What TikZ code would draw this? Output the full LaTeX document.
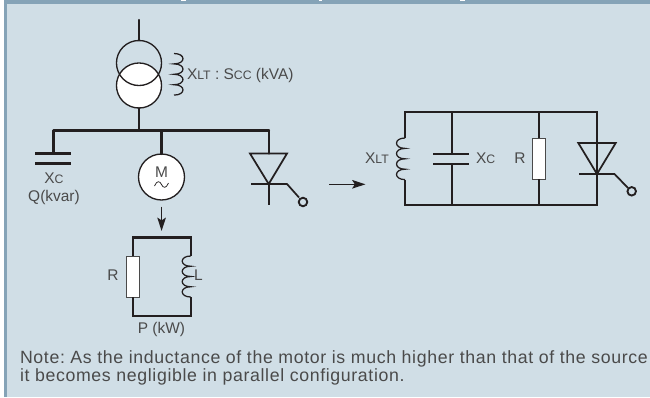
\documentclass[tikz,border=0pt]{standalone}
\usepackage{fontspec}
\setmainfont{Liberation Sans}
\usetikzlibrary{arrows.meta}
\frenchspacing
\definecolor{panelbg}{HTML}{D0DEE6}
\definecolor{band}{HTML}{85A3B7}
\definecolor{ink}{HTML}{231F20}
\definecolor{txt}{HTML}{4A4A4A}
\newcommand{\sm}[1]{{\fontsize{9.2}{10}\selectfont #1}}
\newcommand{\coilpath}[4]{%
  \draw[coil] (#1,#2) \foreach \i in {0,1,2,3} { .. controls ({#1+1.33*#3},{#2+\i*#4}) and ({#1+1.33*#3},{#2+(\i+1)*#4}) .. (#1,{#2+(\i+1)*#4}) };}
\tikzset{
  wire/.style={draw=ink,line width=1.7pt,line cap=round,line join=miter},
  thin wire/.style={draw=ink,line width=1.3pt,line join=miter},
  coil/.style={draw=ink,line width=0.95pt},
  lab/.style={text=txt,font=\fontsize{11.6}{13}\selectfont,inner sep=0pt,outer sep=0pt},
  note/.style={text=txt,font=\fontsize{13.3}{15}\selectfont\addfontfeature{LetterSpace=3.6},inner sep=0pt,outer sep=0pt},
  res/.style={draw=txt,fill=white,line width=0.8pt,minimum width=9.4pt,minimum height=30.5pt,inner sep=0pt,outer sep=0pt},
  ring/.style={circle,draw=ink,line width=1pt,inner sep=0pt,outer sep=0pt},
  flow/.style={draw=ink,line width=1.2pt,-{Stealth[length=10pt,width=6.4pt,inset=2pt]}},
}
\begin{document}
\begin{tikzpicture}[x=0.75pt,y=-0.75pt]
\useasboundingbox (0,0) rectangle (650,397);
\fill[white] (0,0) rectangle (650,397);
\fill[band] (4,0) rectangle (650,3.7);
\fill[band] (4,0) rectangle (6.6,397);
\fill[panelbg] (6.6,3.7) rectangle (650,397);
% tips of the clipped heading
\foreach \a/\b in {181/186,318.5/321.5,460/465}{\fill[white] (\a,0) rectangle (\b,1.2);}
% transformer
\coordinate (feed) at (139,20);
\node[ring,fill=white,minimum size=33.8pt] (lower) at (139,85.5) {};
\node[ring,minimum size=33.8pt] (upper) at (139,63) {};
\draw[wire] (feed) -- (upper.north);
\coilpath{174}{53.5}{9}{10.4}
\node[lab,anchor=base west] (xlt) at (187,79.5) {X\sm{LT} : S\sm{CC} (kVA)};
% bus
\coordinate (busL) at (53.5,130.5);
\coordinate (busT) at (139,130.5);
\coordinate (busM) at (161.5,130.5);
\coordinate (busR) at (269,130.5);
\draw[wire] (lower.south) -- (busT);
\draw[wire] (busL) -- (busR);
% capacitor
\coordinate (capA) at (53.5,153.5);
\draw[wire] (busL) -- (capA);
\draw[wire,line cap=butt] (35,153.5) -- (71,153.5);
\draw[wire,line cap=butt] (35,163.5) -- (71,163.5);
\node[lab,anchor=base] (xc) at (54,183.5) {X\sm{C}};
\node[lab,anchor=base] (q) at (54,201) {Q(kvar)};
% motor
\node[ring,fill=white,minimum size=34.5pt] (motor) at (161.5,177) {};
\draw[wire] (busM) -- (motor.north);
\node[lab,anchor=base] (m) at (161.5,177) {M};
\draw[draw=ink,line width=0.55pt] (154.5,186) .. controls (157,180) and (160,181) .. (161.5,184.5) .. controls (163,188) and (166,189) .. (168.5,183);
\coordinate (arrA) at (161.6,206.5);
\coordinate (arrB) at (161.6,231);
\draw[flow] (arrA) -- (arrB);
% thyristor left
\coordinate (thyTop) at (269,153.5);
\coordinate (thyK) at (268.7,184);
\draw[wire] (busR) -- (thyTop);
\draw[thin wire,line join=miter] (250,153.5) -- (287,153.5) -- (thyK) -- cycle;
\draw[thin wire] (251,184) -- (287,184) -- (299,197.5);
\draw[thin wire] (thyK) -- (268.7,205);
\node[ring,line width=1.4pt,minimum size=6.4pt] (g1) at (303,202) {};
% R L branch
\node[res] (r1) at (133,276.7) {};
\draw[wire,line cap=butt] (r1.north) -- (133,237.5) -- (190.7,237.5) -- (190.7,256);
\draw[wire,line cap=butt] (r1.south) -- (133,315.7) -- (190.7,315.7) -- (190.7,297);
\coilpath{190.7}{256}{-8.5}{10.25}
\node[lab] (rl) at (113,275) {R};
\node[lab] (ll) at (198.5,275.5) {L};
\node[lab,anchor=base] (p) at (161.5,333) {P (kW)};
% arrow between
\coordinate (midA) at (329,184.3);
\coordinate (midB) at (365.5,184.3);
\draw[flow] (midA) -- (midB);
% right circuit
\draw[wire,line cap=butt] (405,138) -- (405,112) -- (597,112) -- (597,205.3) -- (405,205.3) -- (405,179.5);
\coilpath{405}{138}{-8.5}{10.4}
\node[lab] (xlt2) at (377,158.5) {X\sm{LT}};
\coordinate (c2t) at (452,112);
\coordinate (c2b) at (452,205.3);
\draw[wire,line cap=butt] (c2t) -- (452,153.7);
\draw[wire,line cap=butt] (c2b) -- (452,163.7);
\draw[wire,line cap=butt] (433.3,153.7) -- (469,153.7);
\draw[wire,line cap=butt] (433.3,163.7) -- (469,163.7);
\node[lab] (xc2) at (485.7,158.5) {X\sm{C}};
\node[res] (r2) at (538.8,158.7) {};
\draw[wire,line cap=butt] (r2.north) -- (538.8,112);
\draw[wire,line cap=butt] (r2.south) -- (538.8,205.3);
\node[lab] (r2l) at (520,158.5) {R};
\coordinate (thy2K) at (597,174);
\draw[thin wire] (578.3,143) -- (615.7,143) -- (thy2K) -- cycle;
\draw[thin wire] (579,174) -- (614.5,174) -- (628,188);
\node[ring,line width=1.4pt,minimum size=6.4pt] (g2) at (631.7,191.3) {};
% note
\node[note,anchor=base west] (n1) at (20,363) {Note: As the inductance of the motor is much higher than that of the source};
\node[note,anchor=base west] (n2) at (20,381.7) {it becomes negligible in parallel configuration.};
\end{tikzpicture}
\end{document}
